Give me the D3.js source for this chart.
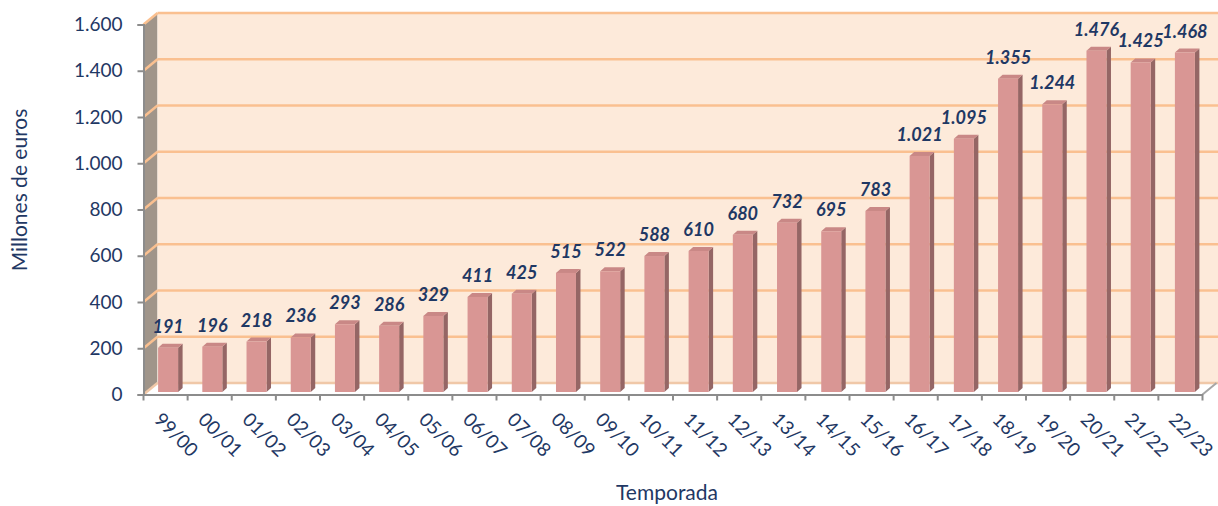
<!DOCTYPE html>
<meta charset="utf-8">
<head>
  <title>Millones de euros por temporada</title>
</head>

<style>
body {
  margin: 0;
  background: #fff;
  font-family: Lato, "Open Sans", sans-serif;
}
</style>

<body>
  <div id="chart"></div>

  <script src="https://cdnjs.cloudflare.com/ajax/libs/d3/7.8.5/d3.min.js"></script>

  <script>
// Data
var seasons = ['99/00', '00/01', '01/02', '02/03', '03/04', '04/05', '05/06', '06/07',
  '07/08', '08/09', '09/10', '10/11', '11/12', '12/13', '13/14', '14/15', '15/16',
  '16/17', '17/18', '18/19', '19/20', '20/21', '21/22', '22/23'];
var values = [191, 196, 218, 236, 293, 286, 329, 411, 425, 515, 522, 588, 610, 680,
  732, 695, 783, 1021, 1095, 1355, 1244, 1476, 1425, 1468];
var yTicks = [0, 200, 400, 600, 800, 1000, 1200, 1400, 1600];

var W = 1218, H = 506;
var navy = '#1F3864';

// Spanish number format: 1.476
var es = d3.formatLocale({decimal: ',', thousands: '.', grouping: [3], currency: ['', ' €']});
var fmt = es.format(',d');

var svg = d3.select('#chart').append('svg')
  .attr('width', W)
  .attr('height', H);

// front plane (axes) and 3d offsets
var x = d3.scaleBand().domain(seasons).range([143.5, 1202.5]);
var y = d3.scaleLinear().domain([0, 1600]).range([394.5, 24.5]);
var dx = 14, dy = -11.5;   // depth of the box (back wall offset)

// bar plane, a bit behind the front
var xb = d3.scaleBand().domain(seasons).range([146, 1207]);
var yb = d3.scaleLinear().domain([0, 1600]).range([392, 22]);
var barW = 20, sideW = 4.5, topH = 4;

// side wall
var x0 = x.range()[0], x1 = x.range()[1];
svg.append('path')
  .attr('d', 'M' + x0 + ',' + y(0) + 'L' + x0 + ',' + y(1600) + 'L' + (x0 + dx) + ',' + (y(1600) + dy) +
    'L' + (x0 + dx) + ',' + (y(0) + dy) + 'Z')
  .attr('fill', '#A0958A');

// back wall
svg.append('rect')
  .attr('x', x0 + dx)
  .attr('y', y(1600) + dy)
  .attr('width', W - (x0 + dx))
  .attr('height', y(0) - y(1600))
  .attr('fill', '#FDEADA');

// floor
svg.append('path')
  .attr('d', 'M' + x0 + ',' + y(0) + 'L' + x1 + ',' + y(0) + 'L' + (x1 + dx) + ',' + (y(0) + dy) +
    'L' + (x0 + dx) + ',' + (y(0) + dy) + 'Z')
  .attr('fill', '#fff');

// gridlines on back wall + side wall
var grid = svg.append('g');
yTicks.forEach(function(t) {
  var col = t === 0 ? '#F0C8A8' : '#FAC090';
  grid.append('line')
    .attr('x1', x0 + dx).attr('x2', W)
    .attr('y1', y(t) + dy).attr('y2', y(t) + dy)
    .attr('stroke', col).attr('stroke-width', 2.5);
  grid.append('line')
    .attr('x1', x0).attr('x2', x0 + dx)
    .attr('y1', y(t)).attr('y2', y(t) + dy)
    .attr('stroke', col).attr('stroke-width', 2.5);
});

// floor right edge
svg.append('line')
  .attr('x1', x1).attr('y1', y(0))
  .attr('x2', x1 + dx).attr('y2', y(0) + dy)
  .attr('stroke', '#A6A6A6').attr('stroke-width', 2);

// bars
var bars = svg.append('g').selectAll('g')
  .data(seasons)
  .join('g');

bars.each(function(s, i) {
  var g = d3.select(this);
  var bx = xb(s) + (xb.bandwidth() - barW) / 2;
  var top = yb(values[i]);
  var bottom = yb(0);
  // side
  g.append('path')
    .attr('d', 'M' + (bx + barW) + ',' + bottom + 'L' + (bx + barW) + ',' + top +
      'L' + (bx + barW + sideW) + ',' + (top - topH) + 'L' + (bx + barW + sideW) + ',' + (bottom - topH) + 'Z')
    .attr('fill', '#956665');
  // top
  g.append('path')
    .attr('d', 'M' + bx + ',' + top + 'L' + (bx + sideW) + ',' + (top - topH) +
      'L' + (bx + barW + sideW) + ',' + (top - topH) + 'L' + (bx + barW) + ',' + top + 'Z')
    .attr('fill', '#C98886');
  // front
  g.append('rect')
    .attr('x', bx)
    .attr('y', top)
    .attr('width', barW)
    .attr('height', bottom - top)
    .attr('fill', '#D99694');
});

// value labels
svg.append('g').selectAll('text')
  .data(seasons)
  .join('text')
  .attr('x', function(s) { return xb(s) + xb.bandwidth() / 2; })
  .attr('y', function(s, i) { return yb(values[i]) - 15; })
  .attr('text-anchor', 'middle')
  .attr('font-size', 18)
  .attr('font-weight', 'bold')
  .attr('font-style', 'italic')
  .attr('fill', navy)
  .text(function(s, i) { return fmt(values[i]); });

// y axis
var yAxis = svg.append('g')
  .attr('transform', 'translate(' + x0 + ',0)')
  .call(d3.axisLeft(y).tickValues(yTicks).tickSize(6).tickFormat(fmt));
yAxis.select('.domain').attr('stroke', '#8C8C8C').attr('stroke-width', 2);
yAxis.selectAll('.tick line').attr('stroke', '#8C8C8C').attr('stroke-width', 2);
yAxis.selectAll('.tick text')
  .attr('x', -21)
  .attr('font-size', 19)
  .attr('font-family', 'Lato, sans-serif')
  .attr('fill', navy);

// x axis
var xAxis = svg.append('g')
  .attr('transform', 'translate(0,' + y(0) + ')')
  .call(d3.axisBottom(x).tickSize(0).tickFormat(''));
xAxis.select('.domain').attr('stroke', '#8C8C8C').attr('stroke-width', 2);

var tickPos = d3.range(seasons.length + 1).map(function(i) { return x0 + i * x.step(); });
svg.append('g').selectAll('line')
  .data(tickPos)
  .join('line')
  .attr('x1', function(d) { return d; }).attr('x2', function(d) { return d; })
  .attr('y1', y(0)).attr('y2', y(0) + 6)
  .attr('stroke', '#8C8C8C').attr('stroke-width', 2);

svg.append('g').selectAll('text')
  .data(seasons)
  .join('text')
  .attr('transform', function(s) {
    return 'translate(' + (x(s) + x.bandwidth() / 2 - 3) + ',' + 411 + ') rotate(45)';
  })
  .attr('dy', '0.72em')
  .attr('font-size', 19)
  .attr('fill', navy)
  .text(function(s) { return s; });

// axis titles
svg.append('text')
  .attr('x', 667)
  .attr('y', 500)
  .attr('text-anchor', 'middle')
  .attr('font-size', 21)
  .attr('fill', navy)
  .text('Temporada');

svg.append('text')
  .attr('transform', 'translate(27,190) rotate(-90)')
  .attr('text-anchor', 'middle')
  .attr('font-size', 21)
  .attr('fill', navy)
  .text('Millones de euros');
  </script>
</body>
</html>
